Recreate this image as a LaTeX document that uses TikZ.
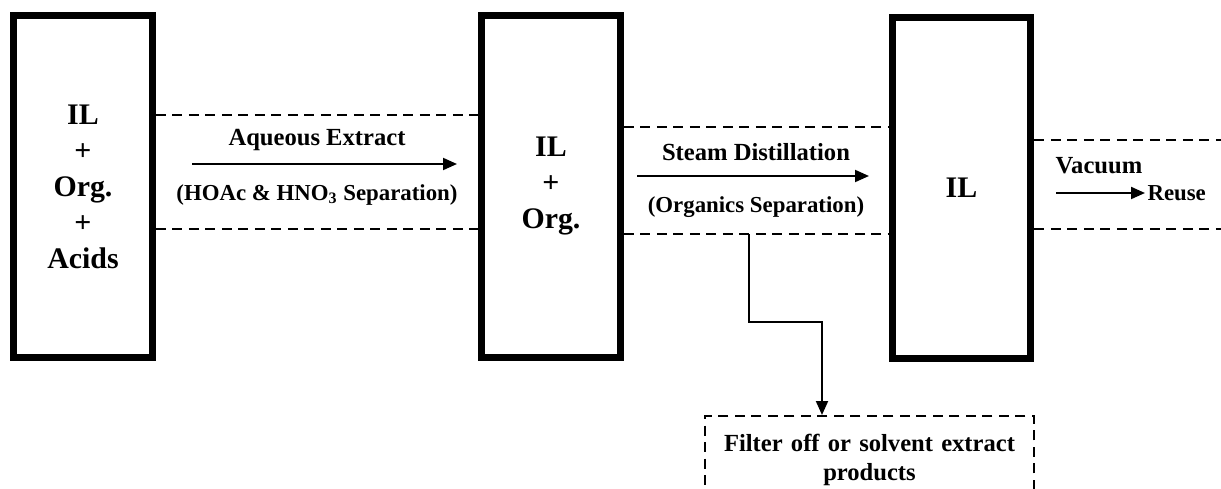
\documentclass[tikz,border=0pt]{standalone}
\usepackage{fontspec}
\setmainfont{Liberation Serif}
\usepackage{tikz}
\usetikzlibrary{arrows.meta}

\begin{document}
\begin{tikzpicture}[x=0.02cm, y=-0.02cm, line width=0.3mm,
    unit/.style={draw, line width=0.14cm, minimum width=2.78cm, minimum height=6.84cm,
                 align=center, font=\fontsize{17}{20.5}\selectfont\bfseries},
    cut/.style={line width=0.04cm, dash pattern=on 0.2cm off 0.13cm},
    flow/.style={-{Triangle[length=0.28cm,width=0.24cm]}, line width=0.04cm},
    lbl/.style={font=\fontsize{14}{16.5}\selectfont\bfseries},
    sub/.style={font=\fontsize{13}{15}\selectfont\bfseries}]
    \useasboundingbox (0,0) rectangle (1221,489);
    \clip (0,0) rectangle (1221,489);

    \node[unit](mix) at (83,186.5) {IL\\+\\Org.\\+\\Acids};
    \node[unit](ilorg) at (551,186.5) {IL\\+\\Org.};
    \node[unit](il) at (961.5,188) {IL};

    % dashed bands
    \coordinate(b1top) at (0,115);
    \coordinate(b1bot) at (0,229);
    \coordinate(b2top) at (0,127);
    \coordinate(b2bot) at (0,234);
    \coordinate(b3top) at (1221,140);
    \coordinate(b3bot) at (1221,229);
    \draw[cut] (mix.east |- b1top) -- (ilorg.west |- b1top)
               (mix.east |- b1bot) -- (ilorg.west |- b1bot)
               (ilorg.east |- b2top) -- (il.west |- b2top)
               (ilorg.east |- b2bot) -- (il.west |- b2bot)
               (il.east |- b3top) -- (b3top)
               (il.east |- b3bot) -- (b3bot);

    % aqueous extract
    \node[lbl](aq) at (317,140) {Aqueous Extract};
    \node[sub](hno) at (317,195) {(HOAc \& HNO\textsubscript{3} Separation)};
    \coordinate(a1) at (192,164);
    \coordinate(a2) at (457,164);
    \draw[flow] (a1) -- (a2);

    % steam distillation
    \node[lbl](steam) at (756,152) {Steam Distillation};
    \node[sub](orgsep) at (756,207) {(Organics Separation)};
    \coordinate(s1) at (637,176);
    \coordinate(s2) at (869,176);
    \draw[flow] (s1) -- (s2);

    % vacuum
    \node[lbl](vac) at (1099,166) {Vacuum};
    \node[sub, anchor=west, inner sep=1pt](reuse) at (1145,193) {Reuse};
    \coordinate(v1) at (1056,193);
    \draw[flow] (v1) -- (reuse.west);

    % products
    \node[draw, cut, anchor=north, minimum width=6.58cm, text width=6.3cm, align=center,
          inner ysep=0.36cm, lbl](filter) at (869.5,415)
          {Filter off or solvent extract\\products\rule[-1.5cm]{0pt}{1.5cm}};
    \coordinate(tap) at (749,234);
    \coordinate(bend) at (822,322);
    \draw[flow] (tap) |- (bend) -- (bend |- filter.north);
\end{tikzpicture}
\end{document}
